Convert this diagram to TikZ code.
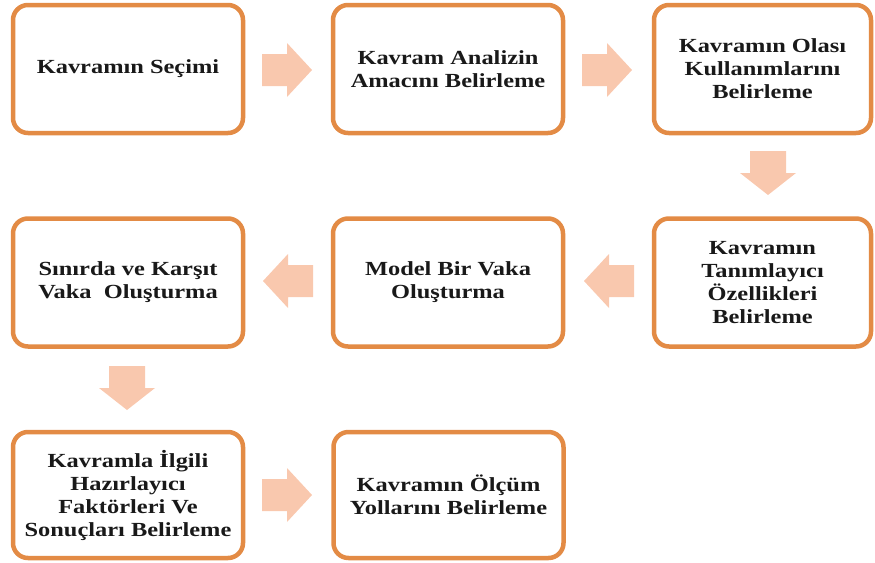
\documentclass[tikz,border=0pt]{standalone}
\usepackage{fontspec}
\setmainfont{Liberation Serif}[FakeStretch=1.22]
\definecolor{boxorange}{RGB}{227,139,69}
\definecolor{arrowfill}{RGB}{249,200,174}
\definecolor{txt}{RGB}{25,25,25}
\tikzset{
  stepbox/.style={draw=boxorange, line width=4.5pt, rounded corners=15pt, fill=white,
    minimum width=230pt, minimum height=128pt, inner sep=0pt, align=center,
    text=txt, font=\bfseries\fontsize{20}{23}\selectfont},
  narrowbox/.style={stepbox, minimum width=217pt},
  pics/harr/.style={code={\fill[arrowfill] (0,-16) -- (25,-16) -- (25,-27) -- (50,0) -- (25,27) -- (25,16) -- (0,16) -- cycle;}},
  pics/varr/.style={code={\fill[arrowfill] (0,-18) -- (22,-18) -- (22,-28) -- (44,0) -- (22,28) -- (22,18) -- (0,18) -- cycle;}}
}
\begin{document}
\begin{tikzpicture}[x=1pt,y=-1pt]
\useasboundingbox (0,0) rectangle (875,562);
% row 1
\node[stepbox] (b1) at (128,69) {Kavramın Seçimi};
\node[stepbox] (b2) at (448,69) {Kavram Analizin\\Amacını Belirleme};
\node[narrowbox] (b3) at (762.5,69) {Kavramın Olası\\Kullanımlarını\\Belirleme};
% row 2
\node[narrowbox] (b4) at (762.5,282.5) {Kavramın\\Tanımlayıcı\\Özellikleri\\Belirleme};
\node[stepbox] (b5) at (448,282.5) {Model Bir Vaka\\Oluşturma};
\node[stepbox] (b6) at (128,282.5) {Sınırda ve Karşıt\\Vaka~ Oluşturma};
% row 3
\node[stepbox, minimum height=126pt] (b7) at (128,495) {Kavramla İlgili\\Hazırlayıcı\\Faktörleri Ve\\Sonuçları Belirleme};
\node[stepbox, minimum height=126pt] (b8) at (448.5,495) {Kavramın Ölçüm\\Yollarını Belirleme};
% block arrows
\pic at (262,70) {harr};
\pic at (582,70) {harr};
\pic[rotate=-90] at (768,151) {varr};
\pic[rotate=180] at (634,281) {harr};
\pic[rotate=180] at (313,281) {harr};
\pic[rotate=-90] at (127,366) {varr};
\pic at (262,495) {harr};
\end{tikzpicture}
\end{document}
